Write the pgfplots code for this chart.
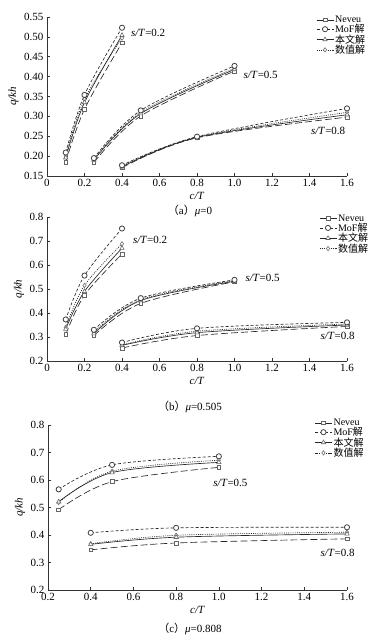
\documentclass[border=0pt]{standalone}
\usepackage{pgfplots}
\pgfplotsset{compat=1.18}
\usepackage{fontspec}
\setmainfont{Liberation Serif}
\newfontfamily\cjk{Noto Sans CJK SC}
\pgfplotsset{
  base/.style={line width=0.65pt, black!85, smooth, tension=0.55},
  nevl/.style={base, solid, mark=square*, mark size=1.9pt, mark options={solid, fill=white, draw=black!60, line width=0.6pt}},
  nev/.style={nevl, dash pattern=on 7pt off 3pt, forget plot},
  mofl/.style={base, dash pattern=on 3pt off 2pt, mark=*, mark size=2.6pt, mark options={solid, fill=white, draw=black!75, line width=0.8pt}},
  mof/.style={mofl, forget plot},
  bwl/.style={base, solid, mark=triangle*, mark size=2.5pt, mark options={solid, fill=white, draw=black!60, line width=0.6pt}},
  bw/.style={bwl, forget plot},
  szl/.style={base, dash pattern=on 1pt off 1.2pt, mark=diamond*, mark size=2.2pt, mark options={solid, fill=white, draw=black!55, line width=0.6pt}},
  sz/.style={szl, forget plot},
  myaxis/.style={
    scale only axis, anchor=south west,
    axis lines=left, axis line style={-, line width=0.65pt, black!80},
    tick align=inside, major tick length=3pt, tick style={black!80, line width=0.6pt},
    ticklabel style={font=\fontsize{11}{13}\selectfont},
    xlabel={\textit{c/T}}, ylabel={\textit{q/kh}},
    label style={font=\fontsize{11}{13}\selectfont},
    xlabel style={yshift=2pt}, ylabel style={yshift=-1pt},
    clip=false,
    legend cell align=left,
    legend style={draw=none, fill=none, anchor=north east, font=\fontsize{10}{11}\selectfont, row sep=0pt, inner sep=0pt, nodes={inner ysep=0.2pt, inner xsep=1.2pt}},
  },
}
\newcommand{\lab}[2]{\node[anchor=west, font=\fontsize{11}{13}\selectfont] at (axis cs:#1) {\textit{s/T}=#2};}
\begin{document}
\begin{tikzpicture}
\useasboundingbox (0,0) rectangle (378pt,644pt);
% ---------------- (a) mu = 0 ----------------
\begin{axis}[myaxis, at={(47pt,468pt)}, width=300pt, height=159pt,
  xmin=0, xmax=1.6, ymin=0.15, ymax=0.55,
  xtick={0,0.2,0.4,0.6,0.8,1.0,1.2,1.4,1.6},
  xticklabels={0,0.2,0.4,0.6,0.8,1.0,1.2,1.4,1.6},
  ytick={0.15,0.20,0.25,0.30,0.35,0.40,0.45,0.50,0.55},
  yticklabels={0.15,0.20,0.25,0.30,0.35,0.40,0.45,0.50,0.55},
  legend style={at={(1.065,1.01)}}]
\addlegendimage{nevl}\addlegendentry{Neveu}
\addlegendimage{mofl}\addlegendentry{MoF{\cjk 解}}
\addlegendimage{bwl}\addlegendentry{{\cjk 本文解}}
\addlegendimage{szl}\addlegendentry{{\cjk 数值解}}
\addplot[nev] coordinates {(0.1,0.185) (0.2,0.318) (0.4,0.485)};
\addplot[nev] coordinates {(0.25,0.184) (0.5,0.301) (1.0,0.414)};
\addplot[nev] coordinates {(0.4,0.171) (0.8,0.246) (1.6,0.298)};
\addplot[sz] coordinates {(0.1,0.200) (0.2,0.343) (0.4,0.497)};
\addplot[sz] coordinates {(0.25,0.192) (0.5,0.310) (1.0,0.421)};
\addplot[sz] coordinates {(0.4,0.175) (0.8,0.248) (1.6,0.310)};
\addplot[bw] coordinates {(0.1,0.196) (0.2,0.335) (0.4,0.504)};
\addplot[bw] coordinates {(0.25,0.190) (0.5,0.307) (1.0,0.418)};
\addplot[bw] coordinates {(0.4,0.173) (0.8,0.247) (1.6,0.304)};
\addplot[mof] coordinates {(0.1,0.209) (0.2,0.354) (0.4,0.523)};
\addplot[mof] coordinates {(0.25,0.195) (0.5,0.315) (1.0,0.427)};
\addplot[mof] coordinates {(0.4,0.177) (0.8,0.249) (1.6,0.320)};
\lab{0.43,0.51}{0.2}
\lab{1.03,0.404}{0.5}
\lab{1.39,0.263}{0.8}
\end{axis}
% ---------------- (b) mu = 0.505 ----------------
\begin{axis}[myaxis, at={(47pt,283pt)}, width=300pt, height=144pt,
  xmin=0, xmax=1.6, ymin=0.2, ymax=0.8,
  xtick={0,0.2,0.4,0.6,0.8,1.0,1.2,1.4,1.6},
  xticklabels={0,0.2,0.4,0.6,0.8,1.0,1.2,1.4,1.6},
  ytick={0.2,0.3,0.4,0.5,0.6,0.7,0.8},
  yticklabels={0.2,0.3,0.4,0.5,0.6,0.7,0.8},
  legend style={at={(1.075,1.02)}}]
\addlegendimage{nevl}\addlegendentry{Neveu}
\addlegendimage{mofl}\addlegendentry{MoF{\cjk 解}}
\addlegendimage{bwl}\addlegendentry{{\cjk 本文解}}
\addlegendimage{szl}\addlegendentry{{\cjk 数值解}}
\addplot[nev] coordinates {(0.1,0.310) (0.2,0.474) (0.4,0.646)};
\addplot[nev] coordinates {(0.25,0.306) (0.5,0.440) (1.0,0.530)};
\addplot[nev] coordinates {(0.4,0.254) (0.8,0.306) (1.6,0.344)};
\addplot[sz] coordinates {(0.1,0.340) (0.2,0.515) (0.4,0.688)};
\addplot[sz] coordinates {(0.25,0.320) (0.5,0.456) (1.0,0.535)};
\addplot[sz] coordinates {(0.4,0.267) (0.8,0.324) (1.6,0.354)};
\addplot[bw] coordinates {(0.1,0.333) (0.2,0.490) (0.4,0.670)};
\addplot[bw] coordinates {(0.25,0.314) (0.5,0.452) (1.0,0.532)};
\addplot[bw] coordinates {(0.4,0.265) (0.8,0.318) (1.6,0.350)};
\addplot[mof] coordinates {(0.1,0.373) (0.2,0.556) (0.4,0.752)};
\addplot[mof] coordinates {(0.25,0.330) (0.5,0.462) (1.0,0.538)};
\addplot[mof] coordinates {(0.4,0.277) (0.8,0.336) (1.6,0.361)};
\lab{0.44,0.704}{0.2}
\lab{1.04,0.546}{0.5}
\lab{1.44,0.304}{0.8}
\end{axis}
% ---------------- (c) mu = 0.808 ----------------
\begin{axis}[myaxis, at={(48pt,54pt)}, width=299pt, height=165pt,
  xmin=0.2, xmax=1.6, ymin=0.2, ymax=0.8,
  xtick={0.2,0.4,0.6,0.8,1.0,1.2,1.4,1.6},
  xticklabels={0.2,0.4,0.6,0.8,1.0,1.2,1.4,1.6},
  ytick={0.2,0.3,0.4,0.5,0.6,0.7,0.8},
  yticklabels={0.2,0.3,0.4,0.5,0.6,0.7,0.8},
  legend style={at={(1.06,1.04)}}]
\addlegendimage{nevl}\addlegendentry{Neveu}
\addlegendimage{mofl}\addlegendentry{MoF{\cjk 解}}
\addlegendimage{bwl}\addlegendentry{{\cjk 本文解}}
\addlegendimage{szl}\addlegendentry{{\cjk 数值解}}
\addplot[nev] coordinates {(0.25,0.492) (0.5,0.594) (1.0,0.646)};
\addplot[nev] coordinates {(0.4,0.346) (0.8,0.371) (1.6,0.386)};
\addplot[sz] coordinates {(0.25,0.518) (0.5,0.632) (1.0,0.672)};
\addplot[sz] coordinates {(0.4,0.368) (0.8,0.399) (1.6,0.410)};
\addplot[bw] coordinates {(0.25,0.521) (0.5,0.627) (1.0,0.664)};
\addplot[bw] coordinates {(0.4,0.366) (0.8,0.392) (1.6,0.404)};
\addplot[mof] coordinates {(0.25,0.566) (0.5,0.655) (1.0,0.686)};
\addplot[mof] coordinates {(0.4,0.408) (0.8,0.426) (1.6,0.428)};
\lab{0.958,0.589}{0.5}
\lab{1.46,0.335}{0.8}
\end{axis}
% captions
\node[font=\fontsize{11}{13}\selectfont] at (190pt,433pt) {{\cjk （}a{\cjk ）}\textit{μ}=0};
\node[font=\fontsize{11}{13}\selectfont] at (190pt,237pt) {{\cjk （}b{\cjk ）}\textit{μ}=0.505};
\node[font=\fontsize{11}{13}\selectfont] at (190pt,15pt) {{\cjk （}c{\cjk ）}\textit{μ}=0.808};
\end{tikzpicture}
\end{document}
